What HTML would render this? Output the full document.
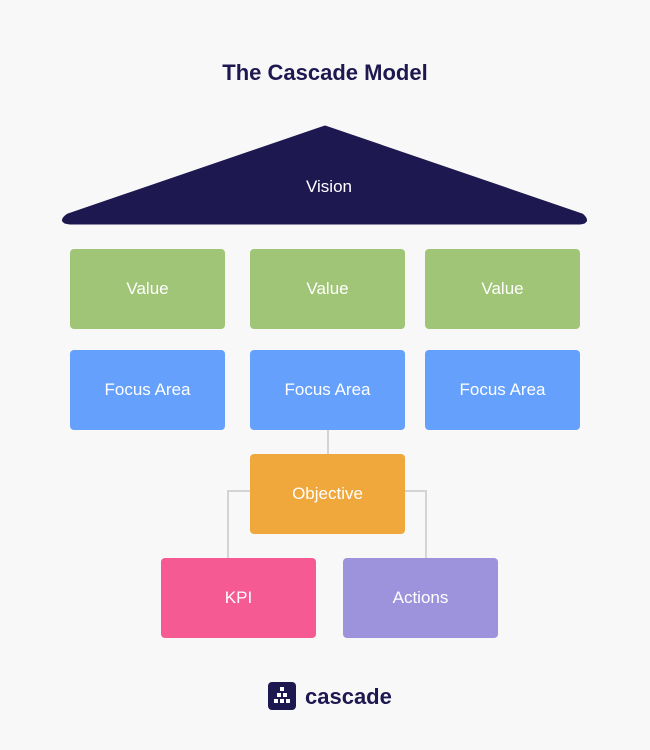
<!DOCTYPE html>
<html><head><style>
body{margin:0;width:650px;height:750px;background:#f8f8f8;font-family:"Liberation Sans",sans-serif;position:relative;overflow:hidden}
.b{position:absolute;width:155px;height:80px;border-radius:4px;color:#fff;font-size:17px;display:flex;align-items:center;justify-content:center}
.g{background:#a0c577}.bl{background:#64a0fc}
.t{position:absolute;top:60px;width:650px;text-align:center;font-weight:bold;font-size:22px;color:#1e1850}
</style></head><body>
<div class="t">The Cascade Model</div>
<svg width="650" height="750" style="position:absolute;left:0;top:0">
<path d="M325 127 L582 215 Q590 222 580 223 L70 223 Q58 222 68 215 Z" fill="#1e1850" stroke="#1e1850" stroke-linejoin="round" stroke-width="3"/>
<text x="329" y="192" fill="#fff" font-size="17" text-anchor="middle" font-family="Liberation Sans">Vision</text>
<g stroke="#d4d4d4" stroke-width="2" fill="none">
<path d="M328 430 V454"/><path d="M250 491 H228 V558"/><path d="M405 491 H426 V558"/>
</g>
<rect x="268" y="682" width="28" height="28" rx="4" fill="#1e1850"/>
<g fill="#fff"><rect x="280" y="687" width="4" height="4"/><rect x="277" y="693" width="4" height="4"/><rect x="283" y="693" width="4" height="4"/><rect x="274" y="699" width="4" height="4"/><rect x="280" y="699" width="4" height="4"/><rect x="286" y="699" width="4" height="4"/></g>
<text x="305" y="704" fill="#1e1850" font-size="22" font-weight="bold" font-family="Liberation Sans">cascade</text>
</svg>
<div class="b g" style="left:70px;top:249px">Value</div>
<div class="b g" style="left:250px;top:249px">Value</div>
<div class="b g" style="left:425px;top:249px">Value</div>
<div class="b bl" style="left:70px;top:350px">Focus Area</div>
<div class="b bl" style="left:250px;top:350px">Focus Area</div>
<div class="b bl" style="left:425px;top:350px">Focus Area</div>
<div class="b" style="left:250px;top:454px;background:#f0a73b">Objective</div>
<div class="b" style="left:161px;top:558px;background:#f55a92">KPI</div>
<div class="b" style="left:343px;top:558px;background:#9d92dc">Actions</div>
</body></html>
